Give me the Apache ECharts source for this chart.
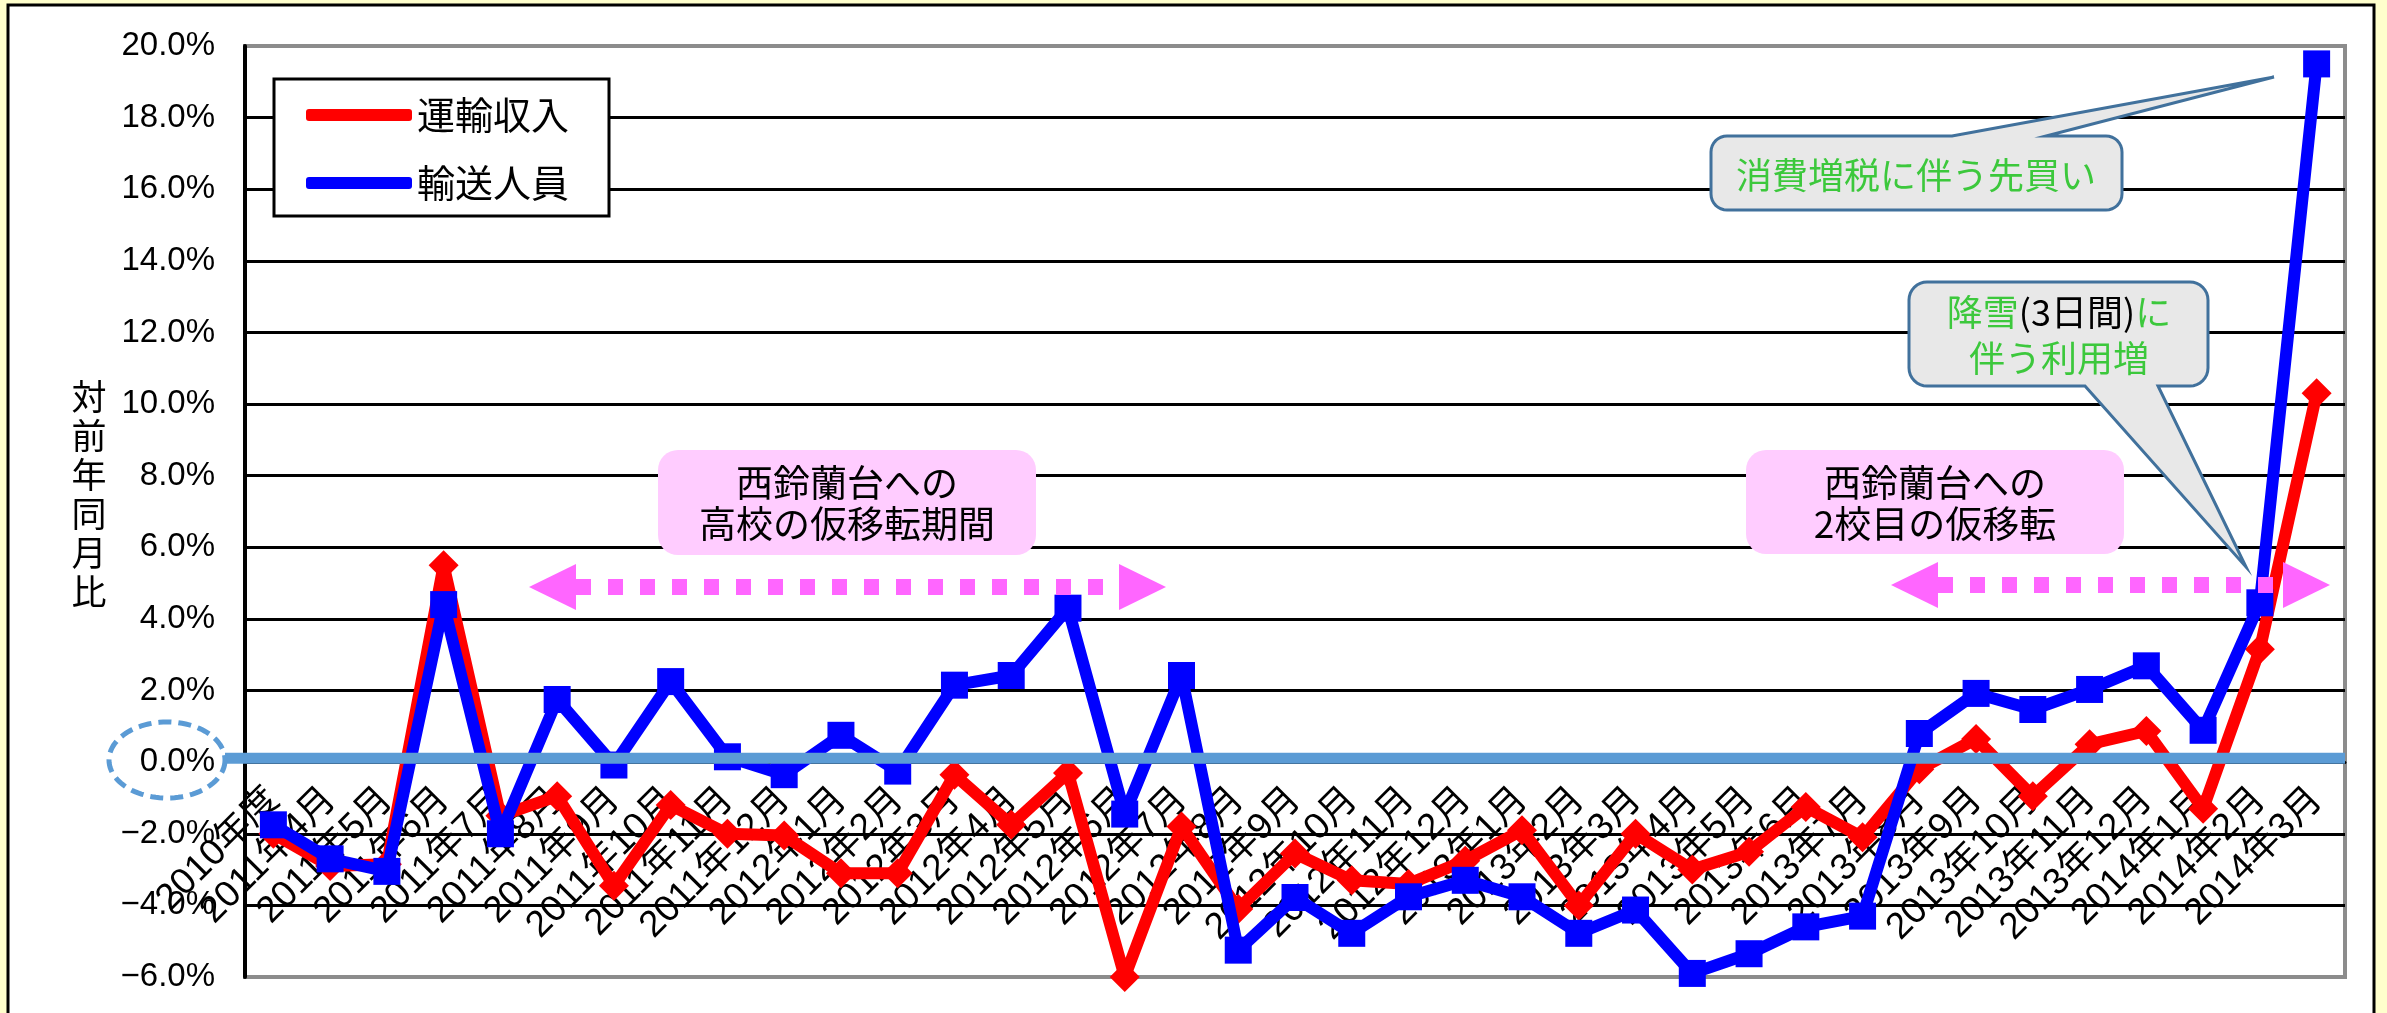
<!DOCTYPE html>
<html>
<head>
<meta charset="utf-8">
<script src="https://cdn.jsdelivr.net/npm/echarts@6/dist/echarts.min.js"></script>
<style>
html,body{margin:0;padding:0;background:#FFFFCC;}
#c{width:2387px;height:1013px;}
</style>
</head>
<body>
<div id="c"></div>
<script>
// ---- data ----
const categories = [
  '2010年度',
  '2011年4月','2011年5月','2011年6月','2011年7月','2011年8月','2011年9月',
  '2011年10月','2011年11月','2011年12月','2012年1月','2012年2月','2012年3月',
  '2012年4月','2012年5月','2012年6月','2012年7月','2012年8月','2012年9月',
  '2012年10月','2012年11月','2012年12月','2013年1月','2013年2月','2013年3月',
  '2013年4月','2013年5月','2013年6月','2013年7月','2013年8月','2013年9月',
  '2013年10月','2013年11月','2013年12月','2014年1月','2014年2月','2014年3月'
];
const seriesNames = ['運輸収入', '輸送人員'];
const revenue = [
  -2.0,
  -2.9, -2.85, 5.5, -1.5, -0.95, -3.45,
  -1.2, -2.0, -2.05, -3.1, -3.1, -0.35,
  -1.75, -0.3, -6.0, -1.8, -4.1, -2.55,
  -3.3, -3.4, -2.75, -1.9, -4.0, -2.0,
  -3.0, -2.5, -1.25, -2.1, -0.2, 0.65,
  -0.95, 0.5, 0.87, -1.3, 3.15, 10.3
];
const passengers = [
  -1.75,
  -2.7, -3.05, 4.4, -2.0, 1.75, -0.08,
  2.25, 0.15, -0.35, 0.75, -0.25, 2.15,
  2.42, 4.3, -1.45, 2.42, -5.25, -3.78,
  -4.78, -3.76, -3.3, -3.76, -4.78, -4.13,
  -5.9, -5.35, -4.6, -4.3, 0.8, 1.92,
  1.47, 2.03, 2.69, 0.89, 4.45, 19.5
];
const yMin = -6, yMax = 20, yStep = 2;
const yAxisTitle = '対前年同月比';
const note1 = '西鈴蘭台への\n高校の仮移転期間';
const note2 = '西鈴蘭台への\n2校目の仮移転';
const note3 = '消費増税に伴う先買い';
const note4a = ['降雪', '(3日間)', 'に'];
const note4b = '伴う利用増';

// ---- chart ----
const chart = echarts.init(document.getElementById('c'), null, {renderer: 'canvas'});
const CJK = "'Noto Sans CJK JP', 'Noto Sans', sans-serif";
const LAT = "'Liberation Sans', 'Noto Sans CJK JP', sans-serif";
const NARROW = "'Liberation Sans Narrow', 'Liberation Sans', sans-serif";

const G = {left: 245, right: 42, top: 46, bottom: 36};
const plotH = 1013 - G.top - G.bottom;
// move the category axis up to the zero line (Excel style "axis crosses at 0")
const zeroOffset = -plotH * (0 - yMin) / (yMax - yMin);

chart.setOption({
  backgroundColor: '#FFFFCC',
  animation: false,
  grid: {left: G.left, right: G.right, top: G.top, bottom: G.bottom, show: true,
         containLabel: false, outerBoundsMode: 'none',
         borderColor: '#8c8c8c', borderWidth: 4, backgroundColor: 'transparent'},
  legend: {
    orient: 'vertical', left: 274, top: 79,
    data: seriesNames,
    icon: 'roundRect', itemWidth: 106, itemHeight: 12, itemGap: 28,
    padding: [16, 40, 13, 32],
    backgroundColor: '#ffffff', borderColor: '#000000', borderWidth: 3,
    textStyle: {fontFamily: CJK, fontSize: 38, color: '#000', lineHeight: 40}
  },
  xAxis: {
    type: 'category', data: categories, boundaryGap: true,
    offset: zeroOffset,
    axisLine: {show: true, onZero: false, lineStyle: {color: '#000', width: 3}},
    axisTick: {show: false},
    axisLabel: {interval: 0, rotate: 45, margin: 32, fontSize: 37,
                fontFamily: LAT, color: '#000', hideOverlap: false},
    splitLine: {show: false}
  },
  yAxis: {
    type: 'value', min: yMin, max: yMax, interval: yStep,
    axisLine: {show: true, lineStyle: {color: '#000', width: 4}},
    axisTick: {show: false},
    axisLabel: {margin: 30, fontSize: 33, fontFamily: NARROW, color: '#000',
                formatter: v => v.toFixed(1).replace('-', '\u2212') + '%'},
    splitLine: {show: true, showMinLine: false, showMaxLine: false,
                lineStyle: {color: '#000', width: 3}}
  },
  series: [
    {name: seriesNames[0], type: 'line', data: revenue,
     lineStyle: {color: '#FF0000', width: 12}, itemStyle: {color: '#FF0000'},
     symbol: 'diamond', symbolSize: 30, showAllSymbol: true, z: 3},
    {name: seriesNames[1], type: 'line', data: passengers,
     lineStyle: {color: '#0000FF', width: 12}, itemStyle: {color: '#0000FF'},
     symbol: 'rect', symbolSize: 27, showAllSymbol: true, z: 4}
  ]
});

// ---- annotation graphics ----
function arcPts(cx, cy, r, a0, a1, pts) {
  const n = 8;
  for (let i = 0; i <= n; i++) {
    const a = (a0 + (a1 - a0) * i / n) * Math.PI / 180;
    pts.push([cx + r * Math.cos(a), cy + r * Math.sin(a)]);
  }
}
function calloutPts(x, y, w, h, r, ptr) {
  const pts = [];
  arcPts(x + r, y + r, r, 180, 270, pts);
  if (ptr && ptr.edge === 'top') { pts.push([ptr.a, y], ptr.tip, [ptr.b, y]); }
  arcPts(x + w - r, y + r, r, 270, 360, pts);
  arcPts(x + w - r, y + h - r, r, 0, 90, pts);
  if (ptr && ptr.edge === 'bottom') { pts.push([ptr.b, y + h], ptr.tip, [ptr.a, y + h]); }
  arcPts(x + r, y + h - r, r, 90, 180, pts);
  return pts;
}
function ellipsePts(cx, cy, rx, ry) {
  const pts = [];
  for (let i = 0; i < 96; i++) {
    const a = i / 96 * Math.PI * 2;
    pts.push([cx + rx * Math.cos(a), cy + ry * Math.sin(a)]);
  }
  return pts;
}
function arrow(x1, x2, y, z) {
  const pink = '#FF66FF';
  const head = 47, half = 23;
  return [
    {type: 'line', z: z, shape: {x1: x1 + head, y1: y, x2: x2 - head, y2: y},
     style: {stroke: pink, lineWidth: 16, lineDash: [15, 17]}},
    {type: 'polygon', z: z, shape: {points: [[x1, y], [x1 + head, y - half], [x1 + head, y + half]]},
     style: {fill: pink}},
    {type: 'polygon', z: z, shape: {points: [[x2, y], [x2 - head, y - half], [x2 - head, y + half]]},
     style: {fill: pink}}
  ];
}
function txt(text, x, y, size, color, lh, z) {
  return {type: 'text', z: z, style: {text: text, x: x, y: y,
    font: size + 'px ' + CJK, fill: color, lineHeight: lh,
    align: 'center', verticalAlign: 'middle', textAlign: 'center', textVerticalAlign: 'middle'}};
}

const zeroY = chart.convertToPixel({yAxisIndex: 0}, 0);
const gridRight = 2387 - G.right;
const calloutFill = '#E8E8E8', calloutStroke = '#41719C', green = '#3CC83C';

const elements = [
  // outer frame
  {type: 'rect', z: -1, shape: {x: 8, y: 5, width: 2366, height: 1030},
   style: {fill: '#ffffff', stroke: '#000000', lineWidth: 3}},
  // y axis title
  {type: 'text', z: 5, style: {text: yAxisTitle.split('').join('\n'), x: 89, y: 377,
    font: '35px ' + CJK, fill: '#000', lineHeight: 39,
    align: 'center', textAlign: 'center', verticalAlign: 'top', textVerticalAlign: 'top'}},
  // zero line + dashed ellipse
  {type: 'line', z: 10, shape: {x1: 225, y1: zeroY - 4, x2: gridRight, y2: zeroY - 4},
   style: {stroke: '#5B9BD5', lineWidth: 11}},
  {type: 'polygon', z: 10, shape: {points: ellipsePts(167, 760, 58, 38)},
   style: {fill: null, stroke: '#5B9BD5', lineWidth: 5, lineDash: [13, 7]}},
  // pink boxes
  {type: 'rect', z: 1, shape: {x: 658, y: 450, width: 378, height: 105, r: 20},
   style: {fill: '#FFCCFF'}},
  txt(note1, 847, 503, 37, '#000', 41, 2),
  {type: 'rect', z: 1, shape: {x: 1746, y: 450, width: 378, height: 104, r: 20},
   style: {fill: '#FFCCFF'}},
  txt(note2, 1935, 503, 37, '#000', 41, 2),
  // callout 1
  {type: 'polygon', z: 1, shape: {points: calloutPts(1711, 136, 411, 74, 16,
     {edge: 'top', a: 1952, b: 2046, tip: [2274, 77]})},
   style: {fill: calloutFill, stroke: calloutStroke, lineWidth: 3}},
  txt(note3, 1916, 175, 36, green, 40, 2),
  // callout 2
  {type: 'polygon', z: 1, shape: {points: calloutPts(1909, 282, 299, 104, 18,
     {edge: 'bottom', a: 2085, b: 2158, tip: [2246, 567]})},
   style: {fill: calloutFill, stroke: calloutStroke, lineWidth: 3}},
  {type: 'text', z: 2, style: {
     text: '{g|' + note4a[0] + '}{k|' + note4a[1] + '}{g|' + note4a[2] + '}\n{g|' + note4b + '}',
     x: 2059, y: 335, align: 'center', verticalAlign: 'middle',
     textAlign: 'center', textVerticalAlign: 'middle',
     font: '36px ' + CJK, lineHeight: 46,
     rich: {
       g: {fill: green, color: green, fontSize: 36, fontFamily: CJK, lineHeight: 46},
       k: {fill: '#000', color: '#000', fontSize: 36, fontFamily: CJK, lineHeight: 46}
     }}}
].concat(arrow(529, 1166, 587, 6), arrow(1891, 2330, 585, 6));

chart.setOption({graphic: {elements: elements}});
</script>
</body>
</html>
